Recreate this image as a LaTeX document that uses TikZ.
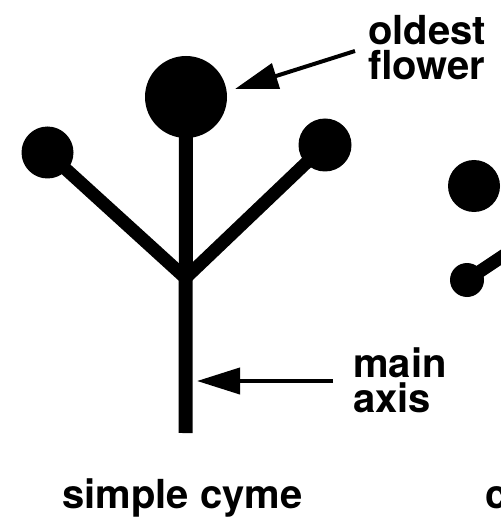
\documentclass[tikz,border=0pt]{standalone}
\usepackage{fontspec}
\setmainfont{TeX Gyre Heros}
\usetikzlibrary{arrows.meta}

\begin{document}
\begin{tikzpicture}[x=1pt, y=-1pt,
  flower/.style={circle, fill=black, inner sep=0pt, minimum size=#1},
  stalk/.style={line width=14pt, line cap=butt},
  branch/.style={line width=13pt, line cap=butt},
  pointer/.style={line width=4pt, -{Triangle[length=43pt, width=26pt]}},
  label/.style={font=\fontsize{40}{35}\selectfont\bfseries, inner sep=0pt, align=left, anchor=base west}
]
  \useasboundingbox (0,0) rectangle (500,521);

  % simple cyme: terminal flower, two lateral flowers, main axis
  \node[flower=82pt] (top) at (186,97) {};
  \node[flower=52pt] (left) at (47.5,152.5) {};
  \node[flower=53pt] (right) at (325,145) {};
  \coordinate (fork) at (185.5,278);
  \coordinate (base) at (185.5,433);
  \draw[stalk] (top.center) -- (base);
  \draw[branch] (left.center) -- (fork);
  \draw[branch] (right.center) -- (fork);

  % labels and pointers (base anchor sits on the last line)
  \node[label] (oldest) at (368,80) {oldest\\flower};
  \coordinate (tailA) at (355,51);
  \coordinate (tipA) at (235,89);
  \draw[pointer] (tailA) -- (tipA);

  \node[label] (axis) at (353,412) {main\\axis};
  \coordinate (tailB) at (333,381);
  \coordinate (tipB) at (197,381);
  \draw[pointer] (tailB) -- (tipB);

  \node[label] (title) at (62,508) {simple cyme};

  % neighbouring figure, running off the right edge
  \node[flower=52pt] (nextTop) at (474,186) {};
  \node[flower=34pt] (nextSide) at (467,280) {};
  \coordinate (nextStem) at (530,238);
  \draw[branch] (nextSide.center) -- (nextStem);
  \node[label] (nextTitle) at (485.5,508) {c};
\end{tikzpicture}
\end{document}
